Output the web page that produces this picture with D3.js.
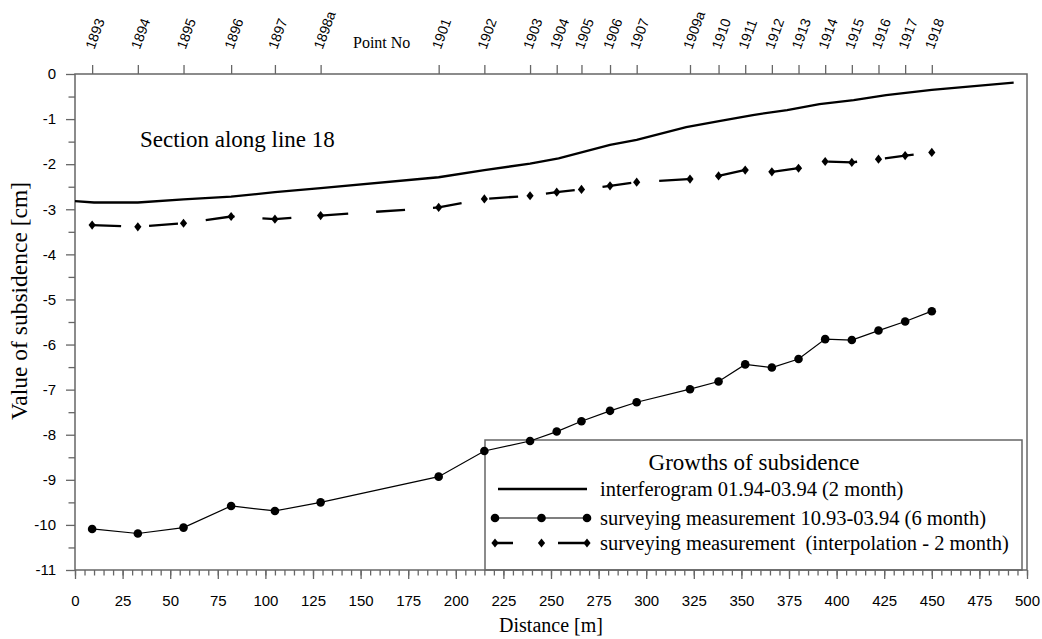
<!DOCTYPE html>
<html>
<head>
<meta charset="utf-8">
<script src="https://cdn.jsdelivr.net/npm/d3@7"></script>
<style>
	body { margin: 0; background: #fff; }
	svg { display: block; }
	.serif { font-family: 'Liberation Serif', 'Times New Roman', serif; fill: #000; white-space: pre; }
	.sans { font-family: 'Liberation Sans', Arial, sans-serif; fill: #000; }
</style>
</head>
<body>
<div class="chart"></div>
<script>
// survey points along line 18
const pointNames = ['1893', '1894', '1895', '1896', '1897', '1898a', '1901', '1902', '1903', '1904', '1905', '1906',
	'1907', '1909a', '1910', '1911', '1912', '1913', '1914', '1915', '1916', '1917', '1918']
const pointDist = [9, 33, 57, 82, 105, 129, 191, 215, 239, 253, 266, 281, 295, 323, 338, 352, 366, 380, 394, 408, 422, 436, 450]

// surveying 10.93-03.94 (6 month)
const survey6m = [-10.09, -10.19, -10.06, -9.58, -9.69, -9.50, -8.93, -8.36, -8.14, -7.93, -7.70, -7.47,
	-7.28, -6.99, -6.82, -6.44, -6.51, -6.32, -5.88, -5.90, -5.69, -5.49, -5.26]
// surveying, interpolated to 2 month
const survey2m = [-3.35, -3.39, -3.31, -3.16, -3.22, -3.14, -2.96, -2.77, -2.70, -2.62, -2.56, -2.48,
	-2.40, -2.33, -2.26, -2.13, -2.17, -2.09, -1.94, -1.96, -1.89, -1.81, -1.74]

// interferogram 01.94-03.94
const interfDist = [0, 10, 33, 57, 82, 105, 129, 191, 215, 239, 254, 281, 295, 321, 339, 356, 374, 391, 409, 426, 450, 493]
const interfVal = [-2.82, -2.85, -2.85, -2.78, -2.72, -2.62, -2.53, -2.29, -2.13, -1.99, -1.87, -1.57,
	-1.46, -1.18, -1.04, -0.91, -0.80, -0.67, -0.58, -0.47, -0.35, -0.19]

const xMajor = d3.range(0, 501, 25)
const xMinor = d3.range(0, 501, 5)
const yMajor = d3.range(0, -12, -1)
const yMinor = d3.range(-0.5, -11, -1)

const legendLabels = ['interferogram 01.94-03.94 (2 month)',
	'surveying measurement 10.93-03.94 (6 month)',
	'surveying measurement  (interpolation - 2 month)']

const W = 1042, H = 639
const m = { top: 74, right: 15, bottom: 69, left: 75 }

const svg = d3.select('div.chart').append('svg')
	.attr('width', W)
	.attr('height', H)

const x = d3.scaleLinear().domain([0, 500]).range([m.left, W - m.right])
const y = d3.scaleLinear().domain([0, -11]).range([m.top, H - m.bottom])

const axisCol = '#666'
const styleAxis = g => {
	g.selectAll('.domain').remove()
	g.selectAll('.tick line').attr('stroke', axisCol).attr('stroke-width', 1.3)
}

// frame
svg.append('rect')
	.attr('x', x(0)).attr('y', y(0))
	.attr('width', x(500) - x(0)).attr('height', y(-11) - y(0))
	.attr('fill', 'none').attr('stroke', axisCol).attr('stroke-width', 1.5)

// bottom axis
svg.append('g')
	.attr('transform', `translate(0,${y(-11)})`)
	.call(d3.axisBottom(x).tickValues(xMinor).tickSize(5.5).tickFormat(''))
	.call(styleAxis)
svg.append('g')
	.attr('transform', `translate(0,${y(-11)})`)
	.call(d3.axisBottom(x).tickValues(xMajor).tickSize(9).tickPadding(16).tickFormat(d => String(d)))
	.call(styleAxis)
	.selectAll('text').attr('class', 'sans').style('font-size', '15px')

// left axis, plain hyphen for minus as in the source
svg.append('g')
	.attr('transform', `translate(${x(0)},0)`)
	.call(d3.axisLeft(y).tickValues(yMinor).tickSize(6.5).tickFormat(''))
	.call(styleAxis)
svg.append('g')
	.attr('transform', `translate(${x(0)},0)`)
	.call(d3.axisLeft(y).tickValues(yMajor).tickSize(9).tickPadding(10).tickFormat(d => String(d)))
	.call(styleAxis)
	.selectAll('text').attr('class', 'sans').style('font-size', '15px')

// top axis with point numbers
const topAxis = svg.append('g')
	.attr('transform', `translate(0,${y(0)})`)
	.call(d3.axisTop(x).tickValues(pointDist).tickSize(9).tickFormat((d, i) => pointNames[i]))
	.call(styleAxis)
topAxis.selectAll('text')
	.attr('class', 'sans')
	.style('font-size', '14px')
	.attr('text-anchor', 'start')
	.attr('x', 0).attr('y', 0).attr('dy', 0)
	.attr('transform', 'translate(1.5,-24) rotate(-70)')

svg.append('text').attr('class', 'serif')
	.attr('x', 353).attr('y', 48)
	.style('font-size', '16px')
	.text('Point No')

// titles
svg.append('text').attr('class', 'serif')
	.attr('x', 140).attr('y', 147)
	.style('font-size', '23px')
	.text('Section along line 18')

svg.append('text').attr('class', 'serif')
	.attr('text-anchor', 'middle')
	.attr('transform', 'translate(27,301) rotate(-90)')
	.style('font-size', '23.5px')
	.text('Value of subsidence [cm]')

svg.append('text').attr('class', 'serif')
	.attr('text-anchor', 'middle')
	.attr('x', (x(0) + x(500)) / 2).attr('y', 632)
	.style('font-size', '20px')
	.text('Distance [m]')

// series
const line = d3.line().x(d => x(d[0])).y(d => y(d[1]))
const diamond = 'M0,-4.6L3.6,0L0,4.6L-3.6,0Z'

const interfData = interfDist.map((d, i) => [d, interfVal[i]])
const s6Data = pointDist.map((d, i) => [d, survey6m[i]])
const s2Data = pointDist.map((d, i) => [d, survey2m[i]])

// legend box sits behind the series (transparent)
const lg = svg.append('g').attr('transform', 'translate(485,440)')
lg.append('rect')
	.attr('width', 537).attr('height', y(-11) - 440)
	.attr('fill', 'none').attr('stroke', axisCol).attr('stroke-width', 1.5)

svg.append('path')
	.attr('d', line(interfData))
	.attr('fill', 'none').attr('stroke', '#000').attr('stroke-width', 2.3)

svg.append('path')
	.attr('d', line(s2Data))
	.attr('fill', 'none').attr('stroke', '#000').attr('stroke-width', 2.3)
	.attr('stroke-dasharray', '29,28')
svg.selectAll('path.dia').data(s2Data).join('path')
	.attr('class', 'dia')
	.attr('d', diamond)
	.attr('transform', d => `translate(${x(d[0])},${y(d[1])})`)

svg.append('path')
	.attr('d', line(s6Data))
	.attr('fill', 'none').attr('stroke', '#000').attr('stroke-width', 1.2)
svg.selectAll('circle.pt').data(s6Data).join('circle')
	.attr('class', 'pt')
	.attr('cx', d => x(d[0])).attr('cy', d => y(d[1]))
	.attr('r', 4.3)

lg.append('text').attr('class', 'serif')
	.attr('x', 269).attr('y', 30)
	.attr('text-anchor', 'middle')
	.style('font-size', '23px')
	.text('Growths of subsidence')

const rowY = [49, 78, 103]
const row = lg.selectAll('g.row').data(legendLabels).join('g')
	.attr('class', 'row')
	.attr('transform', (d, i) => `translate(0,${rowY[i]})`)
row.append('text').attr('class', 'serif')
	.attr('x', 115).attr('y', 7)
	.style('font-size', '20.5px')
	.text(d => d)

row.filter((d, i) => i === 0).append('line')
	.attr('x1', 13).attr('x2', 102)
	.attr('stroke', '#000').attr('stroke-width', 2.3)

const r1 = row.filter((d, i) => i === 1)
r1.append('line')
	.attr('x1', 10).attr('x2', 102)
	.attr('stroke', '#000').attr('stroke-width', 1.2)
r1.selectAll('circle').data([10, 56.5, 102]).join('circle')
	.attr('cx', d => d).attr('r', 4.3)

const r2 = row.filter((d, i) => i === 2)
r2.append('path')
	.attr('d', 'M10,0H28M73,0H102')
	.attr('stroke', '#000').attr('stroke-width', 2.3)
r2.selectAll('path.dia').data([10, 56.5, 102]).join('path')
	.attr('class', 'dia')
	.attr('d', diamond)
	.attr('transform', d => `translate(${d},0)`)
</script>
</body>
</html>
